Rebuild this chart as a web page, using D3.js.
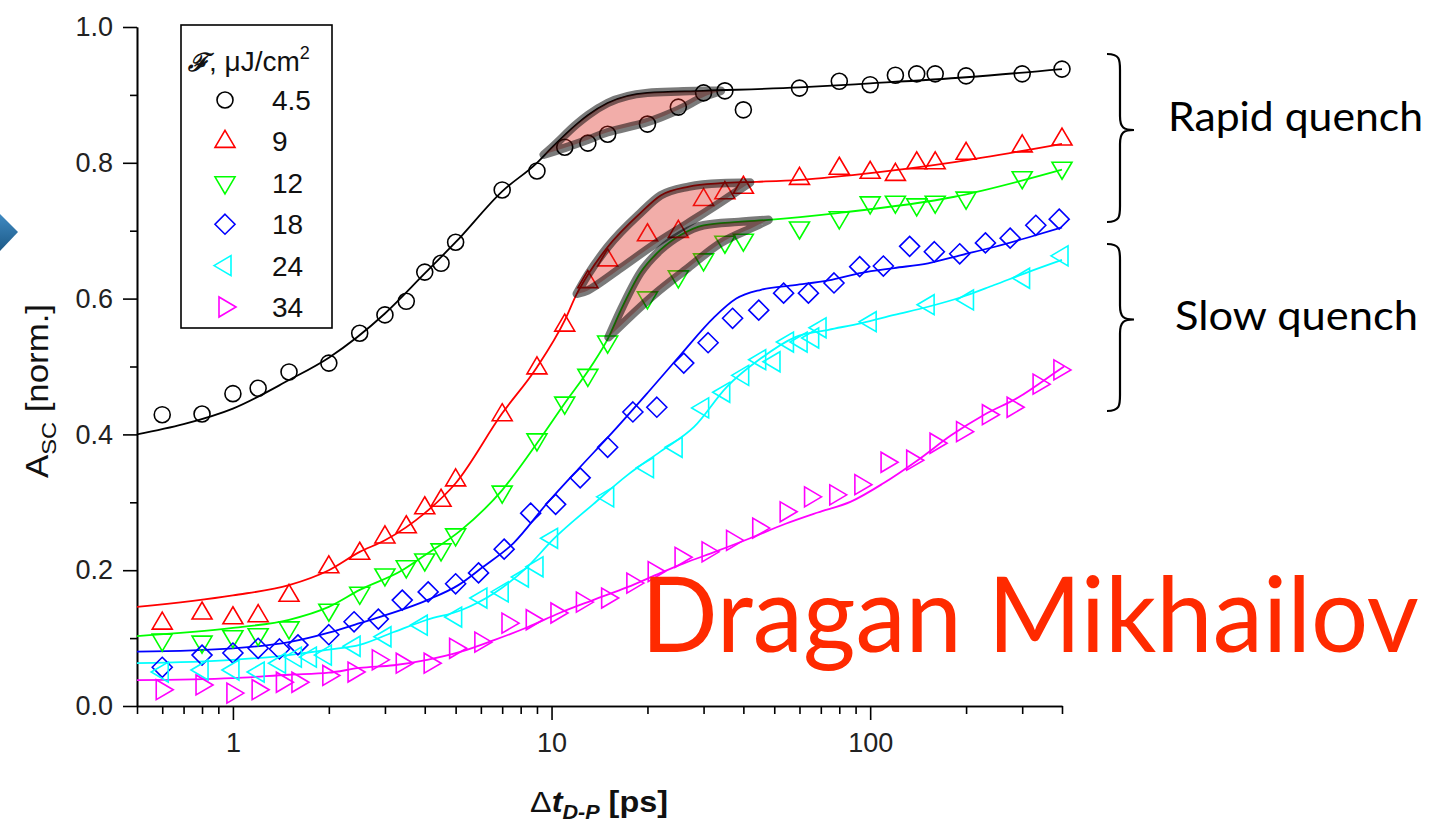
<!DOCTYPE html>
<html>
<head>
<meta charset="utf-8">
<script src="https://cdn.jsdelivr.net/npm/d3@7/dist/d3.min.js"></script>
<style>
  body { margin: 0; background: #fff; }
  svg { display: block; }
</style>
</head>
<body>
<svg id="chart" width="1429" height="827"></svg>
<script>
// ---- Fluence series (legend labels, µJ/cm²) ----
const fluences = ["4.5", "9", "12", "18", "24", "34"];

// ---- Measured superconducting amplitude vs. delay ----
const t45 = [0.6,0.8,1.0,1.2,1.5,2.0,2.5,3.0,3.5,4.0,4.5,5.0,7,9,11,13,15,20,25,30,35,40,60,80,100,120,140,160,200,300,400];
const a45 = [0.429,0.430,0.460,0.468,0.492,0.505,0.549,0.576,0.596,0.639,0.652,0.683,0.760,0.788,0.823,0.829,0.842,0.857,0.882,0.903,0.906,0.878,0.910,0.920,0.915,0.929,0.931,0.931,0.928,0.931,0.938];

const t9 = [0.6,0.8,1.0,1.2,1.5,2.0,2.5,3.0,3.5,4.0,4.5,5.0,7,9,11,13,15,20,25,30,35,40,60,80,100,120,140,160,200,300,400];
const a9 = [0.122,0.137,0.130,0.133,0.163,0.205,0.225,0.249,0.264,0.292,0.303,0.333,0.429,0.498,0.561,0.625,0.657,0.694,0.699,0.746,0.756,0.764,0.777,0.792,0.786,0.783,0.800,0.800,0.814,0.825,0.835];

const t12 = [0.6,0.8,1.0,1.2,1.5,2.0,2.5,3.0,3.5,4.0,4.5,5.0,7,9,11,13,15,20,25,30,35,40,60,80,100,120,140,160,200,300,400];
const a12 = [0.097,0.094,0.102,0.105,0.115,0.141,0.166,0.193,0.205,0.215,0.230,0.252,0.315,0.392,0.446,0.487,0.536,0.601,0.632,0.657,0.683,0.686,0.704,0.719,0.741,0.742,0.738,0.742,0.748,0.778,0.792];

const t18 = [0.6,0.8,1.0,1.2,1.4,1.6,2.0,2.4,2.86,3.4,4.1,5.0,5.9,7.1,8.6,10.3,12.3,15,18,21.4,26,31,37,44.7,53.5,64,77,92.7,110,133,159,191,230,275,331,392];
const a18 = [0.057,0.075,0.078,0.085,0.084,0.090,0.105,0.124,0.128,0.156,0.168,0.180,0.196,0.231,0.284,0.297,0.336,0.381,0.433,0.440,0.505,0.535,0.571,0.583,0.608,0.608,0.623,0.647,0.648,0.677,0.669,0.666,0.682,0.689,0.708,0.717];

const t24 = [0.6,0.8,1.0,1.2,1.4,1.57,1.75,1.95,2.4,3.0,3.9,5.0,6.0,7.0,8.1,9.0,10,15,20,24.6,29.8,34.7,39.8,45,49.9,55,60.7,66,69.6,100,152,202,303,400];
const a24 = [0.050,0.053,0.053,0.050,0.063,0.072,0.072,0.075,0.088,0.102,0.119,0.131,0.159,0.168,0.190,0.205,0.247,0.308,0.351,0.381,0.439,0.462,0.487,0.510,0.507,0.536,0.536,0.542,0.557,0.566,0.591,0.598,0.630,0.663];

const t34 = [0.6,0.8,1.0,1.2,1.43,1.6,2.0,2.4,2.86,3.4,4.16,5.0,6.0,7.3,8.7,10.4,12.5,15,18,21,25.5,31,37,44.7,54.5,65,78,93.5,113,136,161,195,235,281,339,394];
const a34 = [0.024,0.031,0.019,0.024,0.035,0.035,0.045,0.050,0.068,0.063,0.063,0.085,0.094,0.122,0.127,0.137,0.153,0.159,0.181,0.198,0.219,0.227,0.244,0.262,0.286,0.308,0.311,0.326,0.359,0.362,0.387,0.404,0.429,0.440,0.474,0.495];

// ---- Model fits ----
const fitT45 = [0.5,0.7,1,1.5,2,3,4,5,7,9,10,12,13,15,20,30,60,100,200,400];
const fitA45 = [0.400,0.415,0.438,0.480,0.513,0.578,0.637,0.683,0.758,0.800,0.822,0.857,0.870,0.888,0.903,0.906,0.911,0.917,0.926,0.938];

const fitT9 = [0.5,1,1.5,2,2.5,3,4,5,7,9,11,12,13,15,19,22,27,34,44,60,88,184,400];
const fitA9 = [0.146,0.163,0.178,0.200,0.227,0.244,0.284,0.328,0.431,0.499,0.568,0.607,0.635,0.676,0.726,0.752,0.765,0.770,0.772,0.775,0.782,0.801,0.828];

const fitT12 = [0.5,1,1.5,2,2.5,3.4,4,5.2,7,9,11,13.3,15.1,16.5,19,22,25.5,30,38.6,48,79,184,400];
const fitA12 = [0.103,0.115,0.127,0.146,0.171,0.200,0.222,0.259,0.318,0.387,0.446,0.500,0.543,0.583,0.638,0.672,0.694,0.708,0.713,0.716,0.726,0.750,0.790];

const fitT18 = [0.5,1,1.5,2,2.5,4.07,5.1,6.1,7.6,9.7,12.3,15.6,20,25.5,32.3,38,45.4,58,74,94,119,152,193,245,313,400];
const fitA18 = [0.080,0.085,0.094,0.108,0.122,0.156,0.178,0.205,0.240,0.299,0.352,0.404,0.461,0.518,0.572,0.600,0.613,0.620,0.627,0.638,0.645,0.652,0.664,0.676,0.690,0.705];

const fitT24 = [0.5,1,1.5,2,2.5,3.2,4.07,5.2,6.6,8.4,10.1,13.5,17.3,22,28,35.5,45.4,58,74,94,119,152,193,245,313,400];
const fitA24 = [0.063,0.068,0.075,0.083,0.090,0.109,0.127,0.141,0.166,0.205,0.245,0.297,0.340,0.375,0.411,0.470,0.512,0.543,0.554,0.564,0.576,0.588,0.602,0.620,0.639,0.657];

const fitT34 = [0.5,1,1.5,2,2.5,3.2,4.07,5.2,6.6,8.4,10.6,13.5,17.3,22,26,33,42,54,68.5,87,110,141,180,228,293,370,406];
const fitA34 = [0.038,0.041,0.046,0.049,0.056,0.060,0.068,0.080,0.097,0.116,0.137,0.156,0.175,0.196,0.210,0.228,0.247,0.268,0.285,0.301,0.328,0.362,0.399,0.429,0.455,0.487,0.500];

// ---- Highlighted quench regions (upper edge on the fit, lower edge on the data) ----
const bandUpT45 = [9.45,10,12,13,15,20,25,30,34];
const bandUpA45 = [0.812,0.822,0.857,0.870,0.888,0.903,0.905,0.906,0.906];
const bandLoT45 = [9.45,11,13,15,20,25,30,34];
const bandLoA45 = [0.812,0.822,0.834,0.845,0.860,0.878,0.897,0.906];

const bandUpT9 = [12,13,15,19,22,27,34,42];
const bandUpA9 = [0.607,0.635,0.676,0.726,0.752,0.765,0.770,0.771];
const bandLoT9 = [12,13,16.5,20.9,26.8,34,42];
const bandLoA9 = [0.607,0.612,0.645,0.679,0.711,0.742,0.771];

const bandUpT12 = [15.1,16.5,19,22,25.5,30,38.6,48];
const bandUpA12 = [0.543,0.583,0.638,0.672,0.694,0.708,0.713,0.716];
const bandLoT12 = [15.1,20.9,26.8,34,43,48];
const bandLoA12 = [0.543,0.605,0.645,0.682,0.705,0.716];

// ---- Axis ticks ----
const xMajorTicks = [1, 10, 100];
const xTickLabels = ["1", "10", "100"];
const xMinorTicks = [0.5,0.6,0.7,0.8,0.9,2,3,4,5,6,7,8,9,20,30,40,50,60,70,80,90,200,300,400];
const yMajorTicks = [0, 0.2, 0.4, 0.6, 0.8, 1.0];
const yTickLabels = ["0.0", "0.2", "0.4", "0.6", "0.8", "1.0"];
const yMinorTicks = [0.1, 0.3, 0.5, 0.7, 0.9];

// ---- Styles ----
const seriesColors = ["#000000", "#ff0000", "#00ff00", "#0000ff", "#00ffff", "#ff00ff"];
const seriesShapes = ["circle", "up", "down", "diamond", "left", "right"];

const series = [
  { t: t45, a: a45, ft: fitT45, fa: fitA45 },
  { t: t9,  a: a9,  ft: fitT9,  fa: fitA9 },
  { t: t12, a: a12, ft: fitT12, fa: fitA12 },
  { t: t18, a: a18, ft: fitT18, fa: fitA18 },
  { t: t24, a: a24, ft: fitT24, fa: fitA24 },
  { t: t34, a: a34, ft: fitT34, fa: fitA34 }
].map((s, i) => ({ ...s, color: seriesColors[i], shape: seriesShapes[i], label: fluences[i] }));

const bands = [
  { ut: bandUpT45, ua: bandUpA45, lt: bandLoT45, la: bandLoA45 },
  { ut: bandUpT9,  ua: bandUpA9,  lt: bandLoT9,  la: bandLoA9 },
  { ut: bandUpT12, ua: bandUpA12, lt: bandLoT12, la: bandLoA12 }
];

const svg = d3.select("#chart");
const FONT = "'Liberation Sans', Arial, sans-serif";
const HUM = "Lato, 'Open Sans', sans-serif";

const x = d3.scaleLog().domain([0.5, 400]).range([137, 1062]);
const y = d3.scaleLinear().domain([0, 1]).range([706, 27]);

// Slide bullet arrow peeking in from the left
const defs = svg.append("defs");
const grad = defs.append("linearGradient").attr("id", "bullet").attr("x1", 0).attr("y1", 0).attr("x2", 0).attr("y2", 1);
grad.append("stop").attr("offset", "0%").attr("stop-color", "#3f8ac2");
grad.append("stop").attr("offset", "100%").attr("stop-color", "#1d5a87");
svg.append("path").attr("d", "M0,214 L18,232 L0,251 Z").attr("fill", "url(#bullet)");

// Axes
const gx = svg.append("g").attr("transform", "translate(0,706)");
gx.call(d3.axisBottom(x).tickValues(xMinorTicks).tickSize(8).tickSizeOuter(0).tickFormat(""));
gx.append("g").call(d3.axisBottom(x).tickValues(xMajorTicks).tickSize(14).tickSizeOuter(0).tickPadding(13)
  .tickFormat((d, i) => xTickLabels[i]));
const gy = svg.append("g").attr("transform", "translate(137,0)");
gy.call(d3.axisLeft(y).tickValues(yMinorTicks).tickSize(7).tickSizeOuter(0).tickFormat(""));
gy.append("g").call(d3.axisLeft(y).tickValues(yMajorTicks).tickSize(14).tickSizeOuter(0).tickPadding(10)
  .tickFormat((d, i) => yTickLabels[i]));
svg.selectAll(".domain").attr("stroke", "#000").attr("stroke-width", 1.6);
svg.selectAll(".tick line").attr("stroke", "#000").attr("stroke-width", 1.6);
svg.selectAll(".tick text").attr("font-family", FONT).attr("font-size", 27).attr("fill", "#222");

// Axis titles
const yt = svg.append("text")
  .attr("transform", "translate(48,478) rotate(-90)")
  .attr("font-family", FONT).attr("font-size", 31).attr("fill", "#111")
  .attr("textLength", 174).attr("lengthAdjust", "spacingAndGlyphs");
yt.append("tspan").text("A");
yt.append("tspan").attr("font-size", 21).attr("dy", 8).text("SC");
yt.append("tspan").attr("dy", -8).text(" [norm.]");

const xt = svg.append("text")
  .attr("x", 530).attr("y", 812)
  .attr("font-family", FONT).attr("font-size", 30).attr("fill", "#111")
  .attr("textLength", 138).attr("lengthAdjust", "spacingAndGlyphs");
xt.append("tspan").text("Δ");
xt.append("tspan").attr("font-style", "italic").attr("font-weight", "bold").text("t");
xt.append("tspan").attr("font-style", "italic").attr("font-weight", "bold").attr("font-size", 20).attr("dy", 7).text("D-P");
xt.append("tspan").attr("dy", -7).attr("font-weight", "bold").text(" [ps]");

// Fit curves
const line = d3.line().x(d => x(d[0])).y(d => y(d[1])).curve(d3.curveMonotoneX);
series.forEach(s => {
  const pts = s.ft.map((t, i) => [t, s.fa[i]]);
  svg.append("path").attr("d", line(pts)).attr("fill", "none")
    .attr("stroke", s.color).attr("stroke-width", 1.8);
});

// Marker shapes
function shapePath(shape) {
  switch (shape) {
    case "up": return "M0,-11 L10,6 L-10,6 Z";
    case "down": return "M0,11 L10,-6 L-10,-6 Z";
    case "left": return "M-11,0 L6,-10 L6,10 Z";
    case "right": return "M11,0 L-6,-10 L-6,10 Z";
    case "diamond": return "M0,-10 L10,0 L0,10 L-10,0 Z";
    default: return null;
  }
}
function drawMarker(g, shape, color, cx, cy) {
  if (shape === "circle") {
    g.append("circle").attr("cx", cx).attr("cy", cy).attr("r", 8)
      .attr("fill", "none").attr("stroke", color).attr("stroke-width", 1.6);
  } else {
    g.append("path").attr("d", shapePath(shape))
      .attr("transform", `translate(${cx},${cy})`)
      .attr("fill", "none").attr("stroke", color).attr("stroke-width", 1.6)
      .attr("stroke-linejoin", "miter");
  }
}

// Data markers
series.forEach(s => {
  const g = svg.append("g");
  s.t.forEach((t, i) => drawMarker(g, s.shape, s.color, x(t), y(s.a[i])));
});

// Highlighted regions
const upLine = d3.line().x(d => x(d[0])).y(d => y(d[1])).curve(d3.curveMonotoneX);
const loLine = d3.line().x(d => x(d[0])).y(d => y(d[1])).curve(d3.curveCatmullRom);
bands.forEach(b => {
  const up = b.ut.map((t, i) => [t, b.ua[i]]);
  const lo = b.lt.map((t, i) => [t, b.la[i]]).reverse();
  const d = upLine(up) + "L" + loLine(lo).slice(1) + "Z";
  svg.append("path").attr("d", d)
    .attr("fill", "rgb(220,40,30)").attr("fill-opacity", 0.38)
    .attr("stroke", "none");
  svg.append("path").attr("d", d)
    .attr("fill", "none")
    .attr("stroke", "#000").attr("stroke-opacity", 0.52)
    .attr("stroke-width", 8.5).attr("stroke-linejoin", "round");
});

// Legend
const lg = svg.append("g");
lg.append("rect").attr("x", 181).attr("y", 25).attr("width", 151).attr("height", 303)
  .attr("fill", "#fff").attr("stroke", "#000").attr("stroke-width", 1.6);
const lt = lg.append("text").attr("x", 188).attr("y", 71)
  .attr("font-family", FONT).attr("font-size", 28).attr("fill", "#111");
lt.append("tspan").attr("font-family", "'DejaVu Serif', serif").attr("font-style", "italic")
  .attr("font-weight", "bold").attr("font-size", 25).text("ℱ");
lt.append("tspan").text(", μJ/cm");
lt.append("tspan").attr("font-size", 18).attr("dy", -12).text("2");
series.forEach((s, i) => {
  const cy = 100 + i * 41.4;
  drawMarker(lg, s.shape, s.color, 225, cy);
  lg.append("text").attr("x", 272).attr("y", cy + 10)
    .attr("font-family", FONT).attr("font-size", 28).attr("fill", "#111").text(s.label);
});

// Braces and annotations
function brace(top, bottom) {
  const mid = (top + bottom) / 2 - 8;
  const xs = 1107, xm = 1120, xt2 = 1134;
  return `M${xs},${top} C${xm},${top} ${xm},${top + 6} ${xm},${top + 16}` +
    ` L${xm},${mid - 14} C${xm},${mid - 2} ${xm + 4},${mid} ${xt2},${mid}` +
    ` C${xm + 4},${mid} ${xm},${mid + 2} ${xm},${mid + 14}` +
    ` L${xm},${bottom - 16} C${xm},${bottom - 6} ${xm},${bottom} ${xs},${bottom}`;
}
svg.append("path").attr("d", brace(54, 222)).attr("fill", "none").attr("stroke", "#000").attr("stroke-width", 2.2);
svg.append("path").attr("d", brace(244, 411)).attr("fill", "none").attr("stroke", "#000").attr("stroke-width", 2.2);

svg.append("text").attr("x", 1168).attr("y", 131).attr("font-family", HUM).attr("font-size", 40)
  .attr("textLength", 255).attr("lengthAdjust", "spacingAndGlyphs").attr("fill", "#000").text("Rapid quench");
svg.append("text").attr("x", 1175).attr("y", 330).attr("font-family", HUM).attr("font-size", 40)
  .attr("textLength", 243).attr("lengthAdjust", "spacingAndGlyphs").attr("fill", "#000").text("Slow quench");

// Large red name: size the font so its natural width fits, then stretch vertically
const nameText = svg.append("text")
  .attr("font-family", HUM).attr("font-size", 100).attr("fill", "#ff2a00").text("Dragan Mikhailov");
const natural = nameText.node().getComputedTextLength();
const nameSize = 100 * 778 / natural;
nameText.attr("font-size", nameSize)
  .attr("transform", `translate(641,652) scale(1,${(104 / nameSize).toFixed(4)})`);
</script>
</body>
</html>
